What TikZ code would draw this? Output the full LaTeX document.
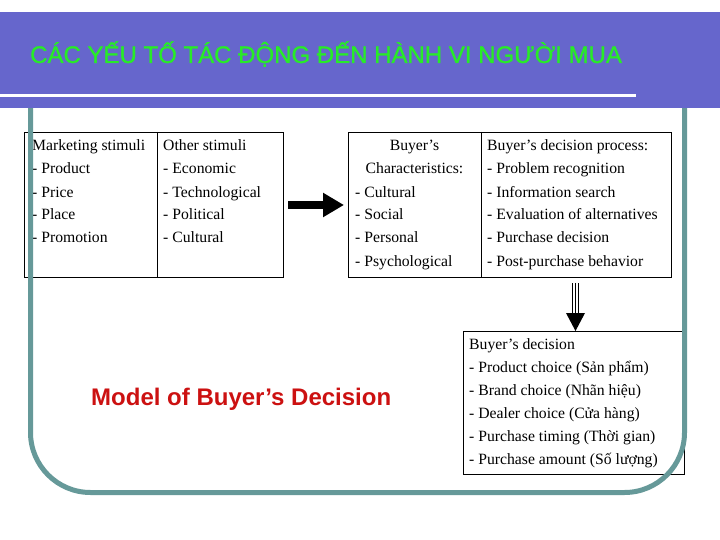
\documentclass[tikz,border=0pt]{standalone}
\usepackage{fontspec}
\setmainfont{Liberation Serif}
\newfontfamily\arialf{Liberation Sans}
\newfontfamily\arialfb[FakeBold=1.2]{Liberation Sans}
\usetikzlibrary{arrows.meta}
\definecolor{bannerc}{RGB}{102,102,204}
\definecolor{titlec}{RGB}{40,235,40}
\definecolor{framec}{RGB}{102,153,153}
\definecolor{redc}{RGB}{204,17,17}
\tikzset{
  cellbox/.style={draw=black, line width=0.9pt, inner sep=0pt},
  txt/.style={anchor=base west, inner sep=0pt, font=\fontsize{15.7}{18}\selectfont},
  ctxt/.style={anchor=base, inner sep=0pt, font=\fontsize{15.7}{18}\selectfont},
}
\begin{document}
\begin{tikzpicture}[x=1pt,y=-1pt]
\useasboundingbox (0,0) rectangle (720,540);
\fill[white] (0,0) rectangle (720,540);
% boxes
\draw[cellbox] (24,132) rectangle (283,277);
\draw[cellbox] (157,132) -- (157,277);
\draw[cellbox] (348,132) rectangle (671,277);
\draw[cellbox] (481,132) -- (481,277);
\draw[cellbox] (463,331) rectangle (684,474);
% column texts
\foreach \t [count=\i from 0] in {Marketing stimuli,- Product,- Price,- Place,- Promotion}
  \node[txt] (ms\i) at (32,151+23*\i) {\t};
\foreach \t [count=\i from 0] in {Other stimuli,- Economic,- Technological,- Political,- Cultural}
  \node[txt] (os\i) at (163,151+23*\i) {\t};
\node[ctxt] (bc0) at (414.5,151) {Buyer’s};
\node[ctxt] (bc1) at (414.5,174) {Characteristics:};
\foreach \t [count=\i from 2] in {- Cultural,- Social,- Personal,- Psychological}
  \node[txt] (bc\i) at (355,151+23*\i) {\t};
\foreach \t [count=\i from 0] in {Buyer’s decision process:,- Problem recognition,- Information search,- Evaluation of alternatives,- Purchase decision,- Post-purchase behavior}
  \node[txt] (dp\i) at (487,151+23*\i) {\t};
\foreach \t [count=\i from 0] in {Buyer’s decision,- Product choice (Sản phẩm),- Brand choice (Nhãn hiệu),- Dealer choice (Cửa hàng),- Purchase timing (Thời gian),- Purchase amount (Số lượng)}
  \node[txt] (bd\i) at (469,349+23*\i) {\t};
% right arrow
\coordinate (ra1) at (288,205);
\coordinate (ra2) at (344,205);
\draw[line width=8pt, -{Triangle[length=21pt,width=23pt]}] (ra1) -- (ra2);
% down arrow
\coordinate (da1) at (575.5,283);
\coordinate (da2) at (575.5,313);
\coordinate (da3) at (575.5,331);
\draw[line width=1.6pt] ([xshift=-3pt]da1) -- ([xshift=-3pt]da2);
\draw[line width=1.6pt] ([xshift=3pt]da1) -- ([xshift=3pt]da2);
\draw[line width=1pt] (da1) -- (da2);
\fill ([xshift=-9.5pt]da2) -- ([xshift=9.5pt]da2) -- (da3) -- cycle;
% frame
\draw[framec, line width=5pt, rounded corners=60pt] (30.5,100) -- (30.5,492.5) -- (684.5,492.5) -- (684.5,100);
% banner
\fill[bannerc] (0,12) rectangle (720,108);
\fill[white] (0,94) rectangle (636,97.5);
\node[anchor=base west, inner sep=0pt, text=titlec, font=\arialfb\fontsize{24}{28}\selectfont] (title) at (30,63) {CÁC YẾU TỐ TÁC ĐỘNG ĐẾN HÀNH VI NGƯỜI MUA};
\node[anchor=base west, inner sep=0pt, text=redc, font=\arialf\bfseries\fontsize{24}{28}\selectfont] (model) at (91,405) {Model of Buyer’s Decision};
\end{tikzpicture}
\end{document}
